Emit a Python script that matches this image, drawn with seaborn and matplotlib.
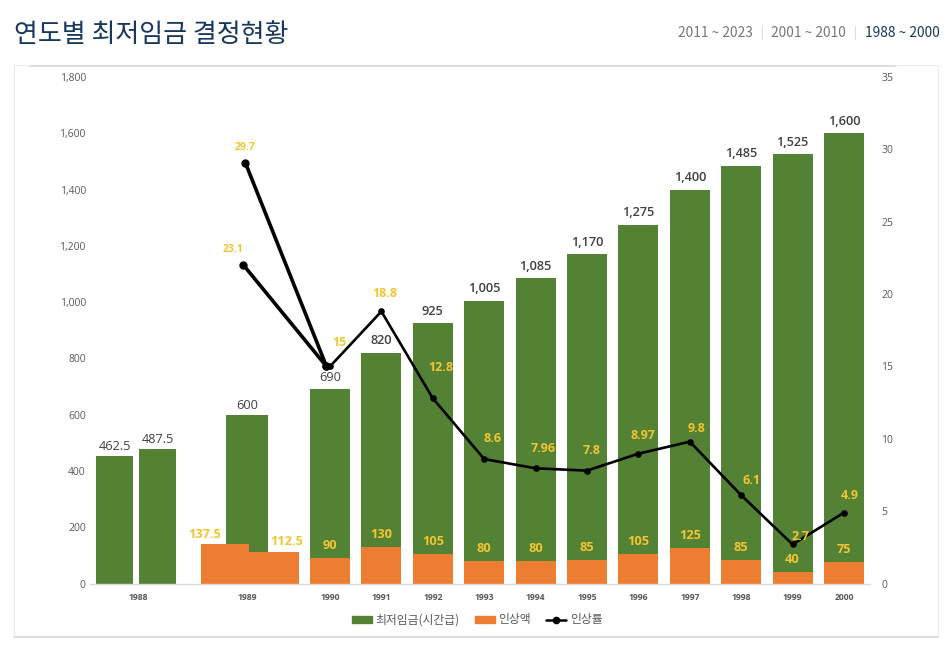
import matplotlib
matplotlib.use("Agg")
import matplotlib.pyplot as plt
import seaborn as sns
from matplotlib.lines import Line2D
from matplotlib.patches import Patch, Rectangle

# ---- data ----
years = ["1988", "1989", "1990", "1991", "1992", "1993", "1994", "1995",
         "1996", "1997", "1998", "1999", "2000"]
wage_labels = ["462.5", "487.5", "600", "690", "820", "925", "1,005", "1,085",
               "1,170", "1,275", "1,400", "1,485", "1,525", "1,600"]
wages = [453, 478, 600, 690, 820, 925, 1005, 1085, 1170, 1275, 1400, 1485, 1525, 1600]
raise_labels = ["137.5", "112.5", "90", "130", "105", "80", "80", "85",
                "105", "125", "85", "40", "75"]
raises = [140, 112.5, 90, 130, 105, 80, 80, 85, 105, 125, 85, 40, 75]
rate_labels = ["29.7", "23.1", "15", "18.8", "12.8", "8.6", "7.96", "7.8",
               "8.97", "9.8", "6.1", "2.7", "4.9"]
rate_a = [29.05, 15]
rate_b = [22.0, 15]
rate_c = [15, 18.8, 12.8, 8.6, 7.96, 7.8, 8.97, 9.8, 6.1, 2.7, 4.9]

# ---- slots along the x axis (1990 = 0) ----
regular = list(range(11))
wage_pos = [-4.193, -3.356, -1.615] + regular
wage_w = [0.72, 0.72, 0.817] + [0.78] * 11
raise_pos = [-2.043, -1.089] + regular
raise_w = [0.934, 0.973] + [0.78] * 11
year_pos = [-3.735, -1.615] + regular

GREEN, ORANGE, GOLD, DARK = "#548235", "#ED7D31", "#F4C430", "#404040"
NUM = "Open Sans"
KR = ["Noto Sans CJK KR", "DejaVu Sans"]

sns.set_theme(style="white")
plt.rcParams["font.family"] = KR
W, H = 951, 649
fig = plt.figure(figsize=(W / 100, H / 100), dpi=100, facecolor="white")


def fx(p):
    return p / W


def fy(p):
    return 1 - p / H


# page chrome
fig.add_artist(Rectangle((fx(14), fy(637)), fx(924), 572 / H, transform=fig.transFigure,
                         fill=False, ec="#EBEBEB", lw=0.8))
fig.add_artist(Line2D([fx(30), fx(895)], [fy(65.5)] * 2, color="#DEDEDE", lw=1.5))
fig.add_artist(Line2D([fx(14), fx(938)], [fy(637)] * 2, color="#DEDEDE", lw=1.5))
fig.text(fx(14), fy(34), "연도별 최저임금 결정현황", fontsize=18.7, color="#17375E",
         va="center", ha="left", family=KR)
for txt, xp, col in [("2011 ~ 2023", 678, "#777777"), ("2001 ~ 2010", 771, "#777777"),
                     ("1988 ~ 2000", 865, "#17375E")]:
    fig.text(fx(xp), fy(33), txt, fontsize=9.9, color=col, va="center", ha="left", family=KR)
for xp in (762, 855):
    fig.add_artist(Line2D([fx(xp)] * 2, [fy(26), fy(39)], color="#DDDDDD", lw=0.8))

# axes
ax = fig.add_axes([fx(90), fy(583.5), 780 / W, 506.5 / H])
ax.patch.set_alpha(0)
for p, v, w in zip(wage_pos, wages, wage_w):
    sns.barplot(x=[p], y=[v], width=w, native_scale=True, color=GREEN, saturation=1,
                errorbar=None, linewidth=0, edgecolor="none", ax=ax)
for p, v, w in zip(raise_pos, raises, raise_w):
    sns.barplot(x=[p], y=[v], width=w, native_scale=True, color=ORANGE, saturation=1,
                errorbar=None, linewidth=0, edgecolor="none", ax=ax)

ax.set_xlim(-4.669, 10.506)
ax.set_ylim(0, 1800)
ax.set_xticks(year_pos)
ax.set_xticklabels(years, fontsize=6.2, fontweight="bold", color="#595959", family=NUM)
ax.set_yticks(range(0, 1801, 200))
ax.set_yticklabels([f"{v:,}" for v in range(0, 1801, 200)], fontsize=7.5, color="#595959", family=NUM)
ax.tick_params(axis="x", length=0, pad=7)
ax.tick_params(axis="y", length=0, pad=3)
ax.set_xlabel("")
ax.set_ylabel("")
for s in ("top", "left", "right"):
    ax.spines[s].set_visible(False)
ax.spines["bottom"].set_color("#D9D9D9")
ax.spines["bottom"].set_linewidth(1)

# bar labels
wage_dy = [9.5, 9.5, 9.5] + [12] * 11
for i, (p, v, t, dy) in enumerate(zip(wage_pos, wages, wage_labels, wage_dy)):
    ax.annotate(t, (p, v), xytext=(0, dy * 0.72), textcoords="offset points", ha="center",
                va="center", fontsize=9.2, color=DARK, family=NUM,
                fontweight="normal" if i < 4 else "semibold")
raise_dx = [-20, 13] + [0] * 11
raise_dy = [9.5, 10.5] + [12.5] * 11
for p, v, t, dx, dy in zip(raise_pos, raises, raise_labels, raise_dx, raise_dy):
    ax.annotate(t, (p, v), xytext=(dx * 0.72, dy * 0.72), textcoords="offset points", ha="center",
                va="center", fontsize=9.2, color=GOLD, family=NUM, fontweight="bold",
                annotation_clip=False)

# rate on the secondary axis
ax2 = ax.twinx()
ax2.patch.set_alpha(0)
sns.lineplot(x=[-1.644, -0.068], y=rate_a, color="black", lw=2.6, marker="o", ms=6, mew=0,
             estimator=None, sort=False, ax=ax2)
sns.lineplot(x=[-1.683, -0.068], y=rate_b, color="black", lw=2.6, marker="o", ms=6, mew=0,
             estimator=None, sort=False, ax=ax2)
sns.lineplot(x=regular, y=rate_c, color="black", lw=1.9, marker="o", ms=4.8, mew=0,
             estimator=None, sort=False, ax=ax2)
ax2.set_xlim(ax.get_xlim())
ax2.set_ylim(0, 35)
ax2.set_yticks(range(0, 36, 5))
ax2.set_yticklabels([str(v) for v in range(0, 36, 5)], fontsize=7.5, color="#595959", family=NUM)
ax2.tick_params(axis="y", length=0, pad=8)
ax2.set_ylabel("")
ax2.set_xlabel("")
for s in ax2.spines.values():
    s.set_visible(False)

rate_x = [-1.644, -1.683] + regular
rate_y = [rate_a[0], rate_b[0]] + rate_c
rate_dx = [0, -11, 9, 3, 8, 8, 8, 5, 5, 7, 10, 8, 6]
rate_dy = [16, 15.5, 24, 18, 31, 21, 20, 20, 18, 13, 15, 8, 17]
rate_fs = [7.4, 7.4] + [9.0] * 11
for x, y, t, dx, dy, fs in zip(rate_x, rate_y, rate_labels, rate_dx, rate_dy, rate_fs):
    ax2.annotate(t, (x, y), xytext=(dx * 0.72, dy * 0.72), textcoords="offset points", ha="center",
                 va="center", fontsize=fs, color=GOLD, family=NUM, fontweight="bold")

handles = [Patch(color=GREEN, label="최저임금(시간급)"), Patch(color=ORANGE, label="인상액"),
           Line2D([], [], color="black", lw=1.8, marker="o", ms=4.5, label="인상률")]
fig.legend(handles=handles, loc="center", bbox_to_anchor=(fx(477), fy(620)), ncol=3, frameon=False,
           prop={"family": KR, "size": 8.5}, labelcolor="#595959", handlelength=1.7, handleheight=0.5,
           handletextpad=0.3, columnspacing=1.3, borderpad=0)

fig.savefig("out.png", dpi=100, facecolor="white")
